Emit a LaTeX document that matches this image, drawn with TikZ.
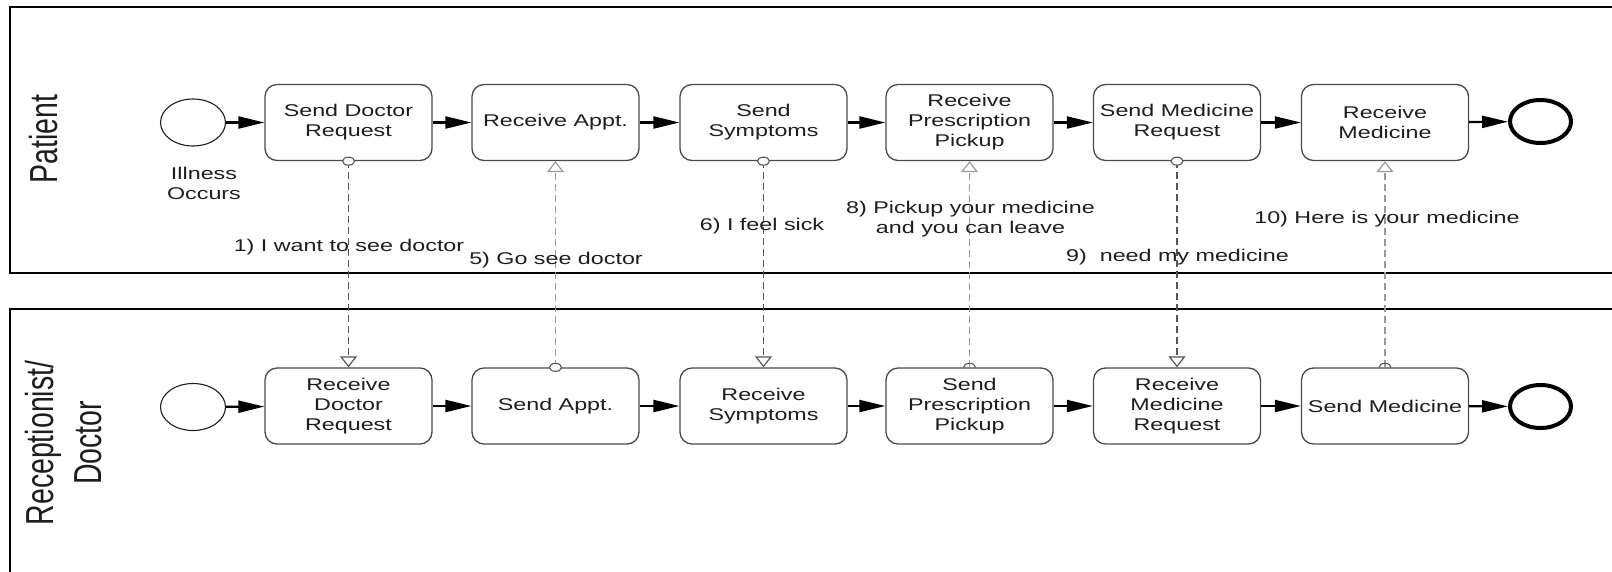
\documentclass[tikz,border=0pt]{standalone}
\usepackage{fontspec}
\setmainfont[FakeStretch=1.37]{Liberation Sans}
\newfontfamily\lanefont{Liberation Sans}
\usetikzlibrary{arrows.meta,shapes.geometric}
\definecolor{ink}{HTML}{1E1E1E}
\definecolor{boxline}{HTML}{4A4A4A}
\definecolor{msgdark}{HTML}{555555}
\definecolor{msglight}{HTML}{9A9A9A}
\tikzset{
  task/.style={draw=boxline, line width=1.3pt, rounded corners=12pt, minimum width=167pt, minimum height=76pt, inner sep=0pt, align=center, fill=white, text=ink, font=\fontsize{17}{20}\selectfont},
  startev/.style={ellipse, draw=ink, line width=1.1pt, minimum width=65pt, minimum height=47pt, inner sep=0pt},
  endev/.style={ellipse, draw=black, line width=4pt, minimum width=61pt, minimum height=43pt, inner sep=0pt},
  seqflow/.style={draw=black, line width=2.2pt, -{Triangle[length=26pt,width=12pt]}},
  msgflow/.style={line width=1.2pt, dash pattern=on 7pt off 4pt, -{Triangle[open,length=11pt,width=17pt]}},
  srcdot/.style={line width=1.1pt, fill=white},
  lbl/.style={text=ink, font=\fontsize{17}{20}\selectfont, align=center, inner sep=0pt},
  pool/.style={draw=black, line width=2.5pt},
  lanelbl/.style={rotate=90, text=ink, inner sep=0pt, font=\lanefont\fontsize{28.5}{35}\selectfont},
}
\begin{document}
\begin{tikzpicture}[x=1pt,y=-1pt]
\useasboundingbox (0,0) rectangle (1612,571);
\clip (0,0) rectangle (1612,571);
\fill[white] (0,0) rectangle (1612,571);
% pools
\draw[pool] (10,7) rectangle (1650,273);
\draw[pool] (10,309) rectangle (1650,620);
\node[lanelbl] (pl1) at (44,139) {\scalebox{1}[1.37]{Patient}};
\node[lanelbl] (pl2) at (68,443) {\scalebox{1}[1.37]{\begin{tabular}{@{}c@{}}Receptionist/\\Doctor\end{tabular}}};
% top row
\node[startev] (s1) at (193,122.5) {};
\node[task] (t1) at (348.5,122.5) {Send Doctor\\Request};
\node[task] (t2) at (555.5,122.5) {Receive Appt.};
\node[task] (t3) at (763.5,122.5) {Send\\Symptoms};
\node[task] (t4) at (969.5,122.5) {Receive\\Prescription\\Pickup};
\node[task] (t5) at (1177,122.5) {Send Medicine\\Request};
\node[task] (t6) at (1385,122.5) {Receive\\Medicine};
\node[endev] (e1) at (1540.5,121.5) {};
% bottom row
\node[startev] (s2) at (193,407) {};
\node[task] (r1) at (348.5,406) {Receive\\Doctor\\Request};
\node[task] (r2) at (555.5,406) {Send Appt.};
\node[task] (r3) at (763.5,406) {Receive\\Symptoms};
\node[task] (r4) at (969.5,406) {Send\\Prescription\\Pickup};
\node[task] (r5) at (1177,406) {Receive\\Medicine\\Request};
\node[task] (r6) at (1385,406) {Send Medicine};
\node[endev] (e2) at (1540.5,406.5) {};
% sequence flows
\draw[seqflow] (s1) -- (t1);
\draw[seqflow] (t1) -- (t2);
\draw[seqflow] (t2) -- (t3);
\draw[seqflow] (t3) -- (t4);
\draw[seqflow] (t4) -- (t5);
\draw[seqflow] (t5) -- (t6);
\draw[seqflow] (t6) -- (e1);
\draw[seqflow] (s2) -- (r1);
\draw[seqflow] (r1) -- (r2);
\draw[seqflow] (r2) -- (r3);
\draw[seqflow] (r3) -- (r4);
\draw[seqflow] (r4) -- (r5);
\draw[seqflow] (r5) -- (r6);
\draw[seqflow] (r6) -- (e2);
% message flows
\draw[msgflow, draw=msgdark] (t1.south) -- (r1.north);
\draw[msgflow, draw=msglight] (r2.north) -- (t2.south);
\draw[msgflow, draw=msgdark] (t3.south) -- (r3.north);
\draw[msgflow, draw=msglight] (r4.north) -- (t4.south);
\draw[msgflow, draw=msgdark] (t5.south) -- (r5.north);
\draw[msgflow, draw=msglight] (r6.north) -- (t6.south);
\draw[srcdot, draw=msgdark] (t1.south) ellipse [x radius=6, y radius=4];
\draw[srcdot, draw=msgdark] (t3.south) ellipse [x radius=6, y radius=4];
\draw[srcdot, draw=msgdark] (t5.south) ellipse [x radius=6, y radius=4];
\draw[srcdot, draw=msgdark] (r2.north) ellipse [x radius=6, y radius=4];
\draw[line width=1.1pt, draw=msgdark] ([xshift=-6pt]r4.north) arc[start angle=180, end angle=360, x radius=6, y radius=4];
\draw[line width=1.1pt, draw=msgdark] ([xshift=-6pt]r6.north) arc[start angle=180, end angle=360, x radius=6, y radius=4];
% labels
\node[lbl] (illness) at (204,183) {Illness\\Occurs};
\node[lbl] (m1) at (349,247) {1) I want to see doctor};
\node[lbl] (m5) at (556,260) {5) Go see doctor};
\node[lbl] (m6) at (762,226) {6) I feel sick};
\node[lbl] (m8) at (970.5,219.5) {8) Pickup your medicine\\and you can leave};
\node[lbl] (m9) at (1177.5,257) {9)\ \ need my medicine};
\node[lbl] (m10) at (1387,219) {10) Here is your medicine};
\end{tikzpicture}
\end{document}
